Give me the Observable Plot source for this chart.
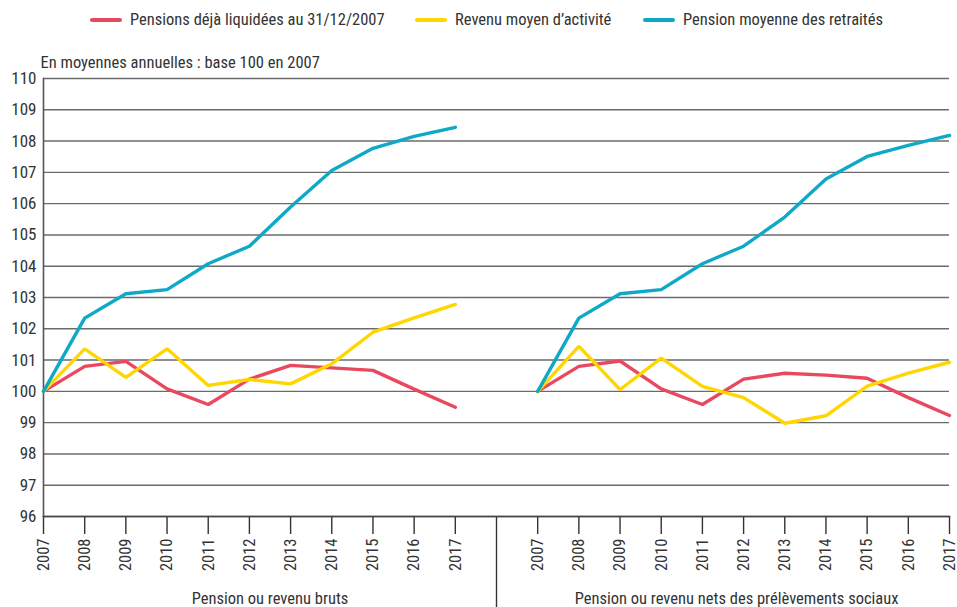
<!DOCTYPE html>
<html>
<head>
<meta charset="utf-8">
<script src="https://cdn.jsdelivr.net/npm/d3@7"></script>
<script src="https://cdn.jsdelivr.net/npm/@observablehq/plot@0.6"></script>
<style>
  html, body { margin: 0; padding: 0; background: #fff; }
  body { width: 957px; height: 607px; overflow: hidden; font-family: "Roboto Condensed", "Open Sans", sans-serif; color: #333; }
  #legend { position: relative; height: 40px; }
  .item { position: absolute; top: 10px; display: flex; align-items: center; font-size: 16.5px; line-height: 20px; }
  .sw { width: 32px; height: 4px; border-radius: 2px; margin-right: 8px; }
  svg { display: block; }
</style>
</head>
<body>
<div id="legend"></div>
<div id="chart"></div>
<script>
// ---- data ----
const years = [2007, 2008, 2009, 2010, 2011, 2012, 2013, 2014, 2015, 2016, 2017];
const seriesNames = ["Pensions déjà liquidées au 31/12/2007", "Revenu moyen d’activité", "Pension moyenne des retraités"];
const seriesColors = ["#E9495F", "#FFD600", "#0EA9C7"];
const panelNames = ["Pension ou revenu bruts", "Pension ou revenu nets des prélèvements sociaux"];
const subtitle = "En moyennes annuelles : base 100 en 2007";
const yTicks = [96, 97, 98, 99, 100, 101, 102, 103, 104, 105, 106, 107, 108, 109, 110];

// Panel 1: gross
const brutPensionsLiquidees = [100, 100.80, 100.96, 100.08, 99.58, 100.39, 100.83, 100.75, 100.67, 100.07, 99.49];
const brutRevenuActivite    = [100, 101.36, 100.45, 101.36, 100.19, 100.38, 100.24, 100.88, 101.89, 102.35, 102.78];
const brutPensionMoyenne    = [100, 102.34, 103.12, 103.25, 104.08, 104.64, 105.89, 107.06, 107.77, 108.15, 108.44];
// Panel 2: net of social levies
const netPensionsLiquidees  = [100, 100.80, 100.97, 100.08, 99.58, 100.39, 100.58, 100.52, 100.42, 99.80, 99.23];
const netRevenuActivite     = [100, 101.44, 100.06, 101.06, 100.16, 99.80, 98.98, 99.22, 100.17, 100.58, 100.93];
const netPensionMoyenne     = [100, 102.34, 103.12, 103.25, 104.08, 104.64, 105.57, 106.79, 107.51, 107.86, 108.18];

// ---- build table ----
const panels = [
  [brutPensionsLiquidees, brutRevenuActivite, brutPensionMoyenne],
  [netPensionsLiquidees, netRevenuActivite, netPensionMoyenne]
];
const panelOffset = years.length + 1; // one empty slot between panels
const rows = [];
const tickPos = [];
const tickLabel = new Map();
panels.forEach((panel, p) => {
  years.forEach((yr, i) => {
    const pos = p * panelOffset + i;
    tickPos.push(pos);
    tickLabel.set(pos, String(yr));
  });
  panel.forEach((vals, s) => {
    vals.forEach((v, i) => rows.push({pos: p * panelOffset + i, value: v, series: seriesNames[s], key: p + "-" + s}));
  });
});
const separatorPos = [years.length];
const groupCenters = panelNames.map((name, p) => ({name, pos: p === 0 ? (years.length) / 2 : panelOffset + (years.length - 1) / 2 - 0.17}));

// ---- legend ----
const legendX = [90, 415, 643];
const legend = document.getElementById("legend");
seriesNames.forEach((n, i) => {
  const d = document.createElement("div");
  d.className = "item";
  d.style.left = legendX[i] + "px";
  d.innerHTML = `<span class="sw" style="background:${seriesColors[i]}"></span><span>${n}</span>`;
  legend.appendChild(d);
});

// ---- chart ----
const font = '"Roboto Condensed", "Open Sans", sans-serif';
const chart = Plot.plot({
  width: 957,
  height: 567,
  marginTop: 38,
  marginBottom: 91,
  marginLeft: 43,
  marginRight: 8,
  style: {fontFamily: font, fontSize: "16.5px", color: "#333", overflow: "visible"},
  x: {type: "linear", domain: [0, 2 * panelOffset - 2]},
  y: {domain: [96, 110]},
  color: {domain: seriesNames, range: seriesColors},
  marks: [
    Plot.gridY({ticks: yTicks, stroke: "#6b6b6b", strokeOpacity: 1, strokeWidth: 1.4}),
    Plot.axisY({ticks: yTicks, tickSize: 0, tickPadding: 7, fontSize: 17, label: null, fill: "#333"}),
    Plot.axisX({ticks: tickPos, tickFormat: d => tickLabel.get(d), tickRotate: -90, tickSize: 18, tickPadding: 4, fontSize: 16.5, label: null, stroke: "#333", strokeWidth: 1.4}),
    Plot.axisX({ticks: separatorPos, tickSize: 95, tickFormat: () => "", label: null, stroke: "#333", strokeWidth: 1.4}),
    Plot.frame({anchor: "left", stroke: "#555", strokeWidth: 1.6}),
    Plot.frame({anchor: "bottom", stroke: "#444", strokeWidth: 1.6}),
    Plot.line(rows, {x: "pos", y: "value", z: "key", stroke: "series", strokeWidth: 3.4, strokeLinejoin: "miter", strokeLinecap: "round"}),
    Plot.text([subtitle], {frameAnchor: "top-left", dx: -3, dy: -16, textAnchor: "start", lineAnchor: "middle", fontSize: 16.5, fill: "#333"}),
    Plot.text(groupCenters, {x: "pos", text: "name", frameAnchor: "bottom", dy: 82, lineAnchor: "middle", fontSize: 16.5, fill: "#333"})
  ]
});
document.getElementById("chart").appendChild(chart);
</script>
</body>
</html>
